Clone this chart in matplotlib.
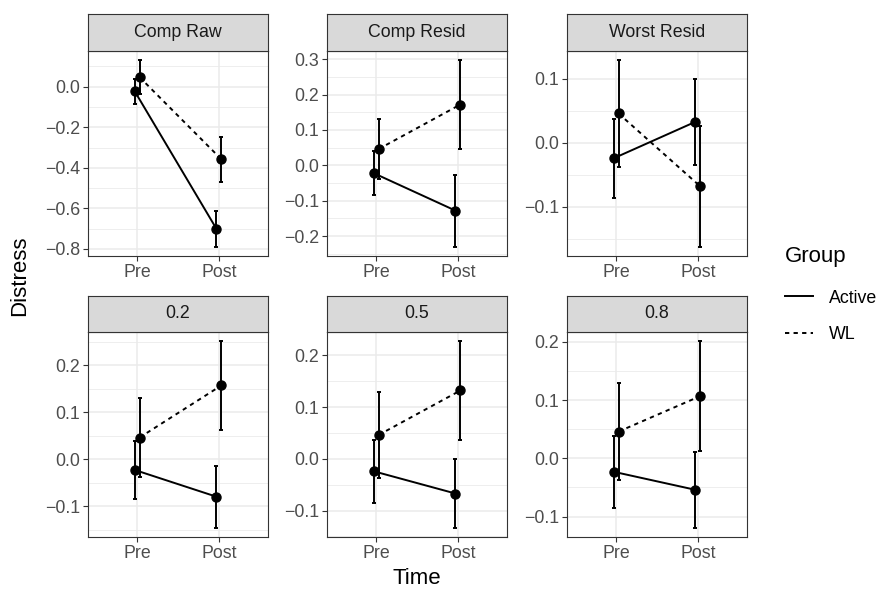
import matplotlib
matplotlib.use("Agg")
import matplotlib.pyplot as plt
from matplotlib.lines import Line2D
from matplotlib.ticker import MultipleLocator, FuncFormatter

plt.rcParams['font.family'] = ['Liberation Sans', 'DejaVu Sans']

# facet labels and values
panels = ["Comp Raw", "Comp Resid", "Worst Resid", "0.2", "0.5", "0.8"]
times = ["Pre", "Post"]

active_pre = [-0.022, -0.022, -0.024, -0.023, -0.024, -0.023]
active_post = [-0.701, -0.128, 0.033, -0.080, -0.067, -0.054]
wl_pre = [0.047, 0.046, 0.046, 0.046, 0.046, 0.046]
wl_post = [-0.358, 0.172, -0.068, 0.157, 0.132, 0.107]

# half widths of the error bars
active_pre_se = [0.062, 0.062, 0.062, 0.061, 0.061, 0.062]
active_post_se = [0.088, 0.102, 0.067, 0.066, 0.066, 0.065]
wl_pre_se = [0.083, 0.084, 0.083, 0.084, 0.083, 0.083]
wl_post_se = [0.112, 0.125, 0.094, 0.094, 0.095, 0.094]

major_step = [0.2, 0.1, 0.1, 0.1, 0.1, 0.1]

W, H = 879, 589
fig = plt.figure(figsize=(W / 100, H / 100), dpi=100)

col_x = [88, 327, 567]
panel_w = 180
row_y = [(14, 51, 256), (296, 332, 537)]  # strip top, panel top, panel bottom

grey20 = "#333333"
grid_col = "#EBEBEB"
dodge = 0.03
dash = (0, (2.2, 2.2))
small = 12.8
big = 16

def fmt(v, pos):
    return ("%.1f" % v).replace("-", "\u2212")

for i, name in enumerate(panels):
    r, c = divmod(i, 3)
    st, pt, pb = row_y[r]
    x0 = col_x[c]
    ax = fig.add_axes([x0 / W, 1 - pb / H, panel_w / W, (pb - pt) / H])
    sax = fig.add_axes([x0 / W, 1 - pt / H, panel_w / W, (pt - st) / H])

    # strip
    sax.set_facecolor("#D9D9D9")
    sax.set_xticks([])
    sax.set_yticks([])
    for s in sax.spines.values():
        s.set_color(grey20)
        s.set_linewidth(0.8)
    sax.text(0.5, 0.5, name, ha="center", va="center", fontsize=small,
             color="#1A1A1A", transform=sax.transAxes)

    groups = [
        ([active_pre[i], active_post[i]], [active_pre_se[i], active_post_se[i]], -dodge, "-"),
        ([wl_pre[i], wl_post[i]], [wl_pre_se[i], wl_post_se[i]], dodge, dash),
    ]
    lo, hi = [], []
    for vals, se, off, ls in groups:
        xs = [1 + off, 2 + off]
        ax.errorbar(xs, vals, yerr=se, fmt="none", ecolor="black", elinewidth=1.4,
                    capsize=1.5, capthick=1.4, zorder=3)
        ax.plot(xs, vals, color="black", lw=1.4, linestyle=ls, zorder=3)
        ax.plot(xs, vals, "o", color="black", markersize=6.5, zorder=4)
        lo += [v - e for v, e in zip(vals, se)]
        hi += [v + e for v, e in zip(vals, se)]

    ymin, ymax = min(lo), max(hi)
    pad = (ymax - ymin) * 0.05
    ax.set_ylim(ymin - pad, ymax + pad)
    ax.set_xlim(0.4, 2.6)
    ax.set_xticks([1, 2])
    ax.set_xticklabels(times)
    ax.yaxis.set_major_locator(MultipleLocator(major_step[i]))
    ax.yaxis.set_minor_locator(MultipleLocator(major_step[i] / 2))
    ax.yaxis.set_major_formatter(FuncFormatter(fmt))
    ax.grid(True, which="major", color=grid_col, lw=1.1, zorder=0)
    ax.grid(True, which="minor", axis="y", color=grid_col, lw=0.6, zorder=0)
    ax.set_axisbelow(True)
    ax.tick_params(which="major", length=3.5, width=0.8, color=grey20,
                   labelsize=small, labelcolor="#4D4D4D", pad=2)
    ax.tick_params(which="minor", length=0)
    for s in ax.spines.values():
        s.set_color(grey20)
        s.set_linewidth(0.8)

fig.text(20 / W, 1 - 276 / H, "Distress", rotation=90, ha="center", va="center",
         fontsize=big)
fig.text(417 / W, 1 - 578 / H, "Time", ha="center", va="center", fontsize=big)

handles = [Line2D([], [], color="black", lw=1.4, linestyle="-"),
           Line2D([], [], color="black", lw=1.4, linestyle=dash)]
leg = fig.legend(handles, ["Active", "WL"], title="Group", loc="upper left",
                 bbox_to_anchor=(769 / W, 1 - 233 / H), frameon=False,
                 fontsize=small, title_fontsize=big, handlelength=1.6,
                 handletextpad=0.85, labelspacing=1.1, alignment="left")
leg.get_title().set_position((0, 3))

fig.savefig("out.png", dpi=100)
